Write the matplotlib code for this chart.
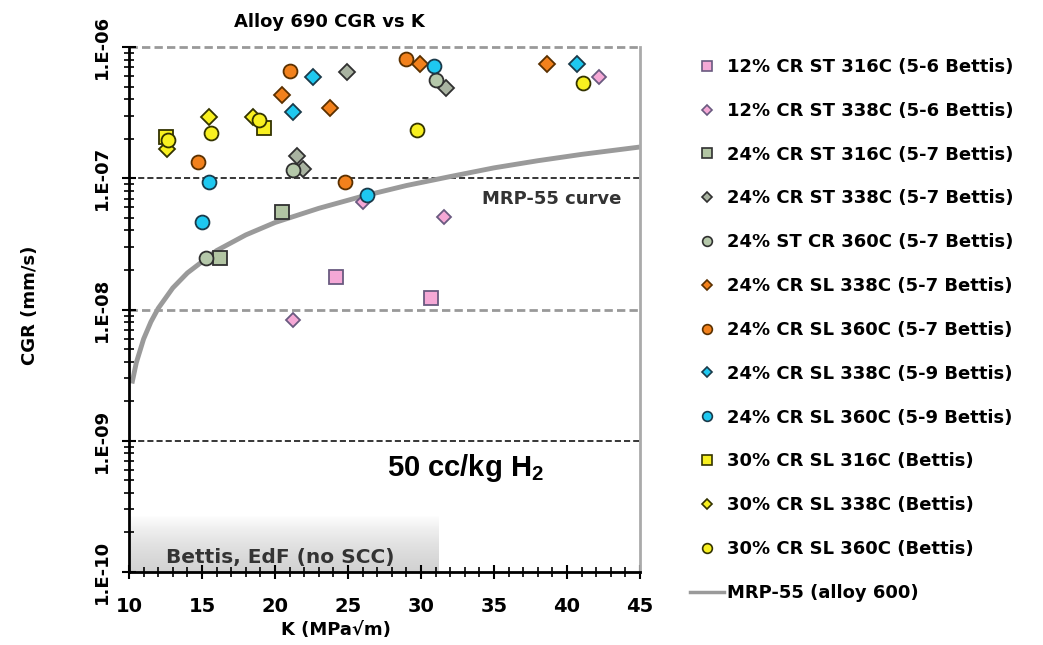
import numpy as np
import matplotlib
matplotlib.use('Agg')
import matplotlib.pyplot as plt
from matplotlib.ticker import MultipleLocator, LogLocator, FixedLocator, FuncFormatter, NullFormatter
from matplotlib.lines import Line2D
from matplotlib.colors import LinearSegmentedColormap

plt.rcParams['font.family'] = 'DejaVu Sans'
plt.rcParams['font.weight'] = 'bold'
plt.rcParams['mathtext.fontset'] = 'custom'
plt.rcParams['mathtext.rm'] = 'Liberation Sans:bold'
plt.rcParams['mathtext.bf'] = 'Liberation Sans:bold'

# data (K in MPa*sqrt(m), CGR in mm/s)
k_12st316 = [24.2, 30.7]
cgr_12st316 = [1.77e-8, 1.22e-8]

k_12st338 = [21.2, 26.0, 31.6, 42.2]
cgr_12st338 = [8.3e-9, 6.6e-8, 5.1e-8, 5.9e-7]

k_24st316 = [16.2, 20.5]
cgr_24st316 = [2.47e-8, 5.5e-8]

k_24st338 = [21.5, 21.9, 24.9, 31.7]
cgr_24st338 = [1.48e-7, 1.17e-7, 6.45e-7, 4.9e-7]

k_24st360 = [15.3, 21.2, 31.0]
cgr_24st360 = [2.47e-8, 1.16e-7, 5.6e-7]

k_24sl338 = [20.5, 23.8, 29.9, 38.6]
cgr_24sl338 = [4.3e-7, 3.4e-7, 7.4e-7, 7.4e-7]

k_24sl360 = [14.7, 21.0, 29.0, 24.8]
cgr_24sl360 = [1.33e-7, 6.6e-7, 8.1e-7, 9.35e-8]

k_59sl338 = [22.6, 21.2, 40.7]
cgr_59sl338 = [5.9e-7, 3.2e-7, 7.4e-7]

k_59sl360 = [15.5, 15.0, 26.3, 30.9]
cgr_59sl360 = [9.4e-8, 4.65e-8, 7.4e-8, 7.2e-7]

k_30sl316 = [12.5, 19.25]
cgr_30sl316 = [2.06e-7, 2.42e-7]

k_30sl338 = [12.6, 15.5, 18.5]
cgr_30sl338 = [1.67e-7, 2.93e-7, 2.93e-7]

k_30sl360 = [12.7, 15.6, 18.9, 29.7, 41.1]
cgr_30sl360 = [1.95e-7, 2.2e-7, 2.78e-7, 2.33e-7, 5.3e-7]

# MRP-55 curve, points
k_mrp = [10.2, 10.5, 11.0, 11.5, 12.0, 13.0, 14.0, 16.0, 18.0, 20.0, 23.0, 26.0, 29.0, 32.0,
         35.0, 38.0, 41.0, 45.0]
cgr_mrp = [2.73e-9, 3.93e-9, 5.96e-9, 8.05e-9, 1.02e-8, 1.46e-8, 1.90e-8, 2.81e-8, 3.7e-8,
           4.6e-8, 5.9e-8, 7.3e-8, 8.8e-8, 1.03e-7, 1.2e-7, 1.36e-7, 1.52e-7, 1.73e-7]

y_major = [1e-10, 1e-9, 1e-8, 1e-7, 1e-6]

series = [
    ('12% CR ST 316C (5-6 Bettis)', k_12st316, cgr_12st316, 's', 10, '#f5a8d6', '#6a5a80'),
    ('12% CR ST 338C (5-6 Bettis)', k_12st338, cgr_12st338, 'D', 7.5, '#f5a8d6', '#6a5a80'),
    ('24% CR ST 316C (5-7 Bettis)', k_24st316, cgr_24st316, 's', 10, '#b2c5a3', '#303030'),
    ('24% CR ST 338C (5-7 Bettis)', k_24st338, cgr_24st338, 'D', 8, '#a9b3a1', '#303030'),
    ('24% ST CR 360C (5-7 Bettis)', k_24st360, cgr_24st360, 'o', 10, '#b5c8aa', '#303030'),
    ('24% CR SL 338C (5-7 Bettis)', k_24sl338, cgr_24sl338, 'D', 8, '#f2811c', '#5a3000'),
    ('24% CR SL 360C (5-7 Bettis)', k_24sl360, cgr_24sl360, 'o', 10, '#f2811c', '#5a3000'),
    ('24% CR SL 338C (5-9 Bettis)', k_59sl338, cgr_59sl338, 'D', 8, '#1ec8f0', '#1a3a4a'),
    ('24% CR SL 360C (5-9 Bettis)', k_59sl360, cgr_59sl360, 'o', 10, '#1ec8f0', '#1a3a4a'),
    ('30% CR SL 316C (Bettis)', k_30sl316, cgr_30sl316, 's', 10, '#f8f020', '#333300'),
    ('30% CR SL 338C (Bettis)', k_30sl338, cgr_30sl338, 'D', 8, '#f8f020', '#333300'),
    ('30% CR SL 360C (Bettis)', k_30sl360, cgr_30sl360, 'o', 10, '#f8f020', '#333300'),
]

fig = plt.figure(figsize=(10.43, 6.45), dpi=100)
ax = fig.add_axes([129 / 1043, 1 - 572 / 645, (640 - 129) / 1043, (572 - 47) / 645])
ax.set_yscale('log')

# shaded "no SCC" band, white at top fading to grey at the axis
cmap = LinearSegmentedColormap.from_list('band', ['#ffffff', '#d2d2d2'])
grad = np.linspace(0, 1, 100).reshape(-1, 1)
ax.imshow(grad, cmap=cmap, extent=[10, 31.3, 1e-10, 2.7e-10], aspect='auto', zorder=0,
          origin='upper')
ax.set_xlim(10, 45)
ax.set_ylim(1e-10, 1e-6)

ax.axhline(1e-6, color='#999999', ls=(0, (3, 1.5)), lw=2, zorder=1, clip_on=False)
ax.axhline(1e-7, color='black', ls=(0, (4, 2)), lw=1.1, zorder=1)
ax.axhline(1e-8, color='#999999', ls=(0, (3, 1.5)), lw=2, zorder=1)
ax.axhline(1e-9, color='black', ls=(0, (4, 2)), lw=1.1, zorder=1)

ax.plot(k_mrp, cgr_mrp, color='#9a9a9a', lw=3.5, zorder=2, solid_capstyle='butt')

for label, k, c, m, ms, fc, ec in series:
    ax.plot(k, c, ls='none', marker=m, ms=ms, mfc=fc, mec=ec, mew=1.3, zorder=3)

for s in ['left', 'bottom']:
    ax.spines[s].set_linewidth(2)
ax.spines['top'].set_visible(False)
ax.spines['right'].set_color('#aaaaaa')
ax.spines['right'].set_linewidth(2)

ax.xaxis.set_major_locator(MultipleLocator(5))
ax.xaxis.set_minor_locator(MultipleLocator(1))
ax.yaxis.set_major_locator(FixedLocator(y_major))
ax.yaxis.set_minor_locator(LogLocator(base=10, subs=np.arange(2, 10), numticks=10))
ax.yaxis.set_minor_formatter(NullFormatter())
ax.yaxis.set_major_formatter(FuncFormatter(lambda v, p: '1.E-%02d' % round(-np.log10(v))))
ax.tick_params(which='major', direction='inout', length=10, width=1.5, labelsize=13)
ax.tick_params(which='minor', direction='inout', length=7, width=1.2)
ax.tick_params(axis='x', which='major', pad=13, labelsize=14)
ax.tick_params(axis='y', which='major', pad=8, labelrotation=90)
for t in ax.get_yticklabels():
    t.set_va('center')

ax.text(12.5, 1.3e-10, 'Bettis, EdF (no SCC)', fontsize=14.5, fontweight='bold', color='#333333',
        va='center', ha='left', zorder=4)
ax.text(34.2, 7.0e-8, 'MRP-55 curve', fontsize=13, fontweight='bold', color='#333333',
        va='center', ha='left')
ax.text(27.7, 6.2e-10, r'50 cc/kg H$_{\mathrm{2}}$', fontsize=21, fontweight='bold',
        family='Liberation Sans', color='black', va='center', ha='left')

fig.text(0.316, 1 - 22 / 645, 'Alloy 690 CGR vs K', fontsize=13, fontweight='bold',
         ha='center', va='center')
fig.text(0.322, 1 - 630 / 645, 'K (MPa\u221am)', fontsize=13, fontweight='bold',
         ha='center', va='center')
fig.text(30 / 1043, 1 - 305 / 645, 'CGR (mm/s)', fontsize=13, fontweight='bold',
         ha='center', va='center', rotation=90)

handles = []
for label, k, c, m, ms, fc, ec in series:
    handles.append(Line2D([], [], ls='none', marker=m, ms=ms * 0.7, mfc=fc, mec=ec, mew=1.2,
                          label=label))
handles.append(Line2D([], [], color='#9a9a9a', lw=2.5, label='MRP-55 (alloy 600)'))
fig.legend(handles=handles, loc='upper left', bbox_to_anchor=(690 / 1043, 1 - 58 / 645),
           frameon=False, borderpad=0, borderaxespad=0, labelspacing=1.43,
           handlelength=1.9, handletextpad=0.15, prop={'weight': 'bold', 'size': 13})

fig.savefig('out.png', dpi=100)
